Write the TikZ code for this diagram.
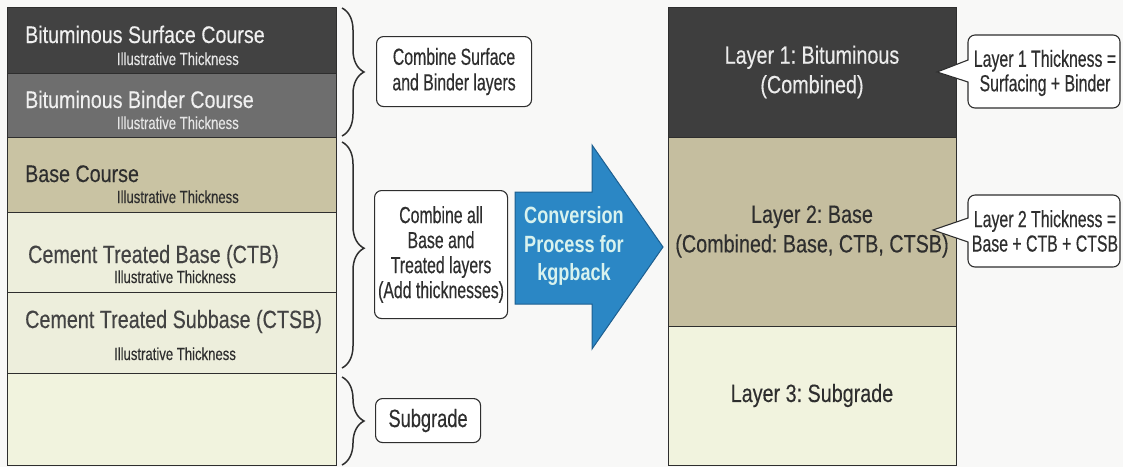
\documentclass[tikz,border=0pt]{standalone}
\usepackage{fontspec}
\setmainfont[FakeStretch=0.82]{Liberation Sans}
\newfontfamily\fwide[FakeStretch=0.82,FakeBold=0.25]{Liberation Sans}
\newfontfamily\fmid[FakeStretch=0.79,FakeBold=0.3]{Liberation Sans}
\newfontfamily\fillus[FakeStretch=0.75,FakeBold=0.2]{Liberation Sans}
\newfontfamily\fright[FakeStretch=0.79,FakeBold=0.25]{Liberation Sans}
\newfontfamily\fnarrow[FakeStretch=0.68,FakeBold=0.35]{Liberation Sans}
\newfontfamily\fsub[FakeStretch=0.73,FakeBold=0.3]{Liberation Sans}
\newfontfamily\farrow[FakeStretch=0.77]{Liberation Sans Bold}
\usetikzlibrary{decorations.pathreplacing,calc}
\definecolor{surfc}{HTML}{424242}
\definecolor{bindc}{HTML}{6E6E6E}
\definecolor{basec}{HTML}{C9C3A3}
\definecolor{ctbc}{HTML}{EDEEDC}
\definecolor{subc}{HTML}{F1F3DE}
\definecolor{lonec}{HTML}{3E3E3E}
\definecolor{ltwoc}{HTML}{C5BE9F}
\definecolor{lthreec}{HTML}{F1F3DE}
\definecolor{arrowc}{HTML}{2B87C5}
\definecolor{arrowd}{HTML}{1D5F90}
\definecolor{arrowt}{HTML}{D8F2EE}
\definecolor{inkc}{HTML}{2E2E2E}
\definecolor{bgc}{HTML}{F8F8F7}
\newcommand\fsz[2]{\fontsize{#1}{#2}\selectfont\frenchspacing}
\begin{document}
\begin{tikzpicture}[x=1pt,y=-1pt,
  layer/.style={draw=inkc, line width=1pt, anchor=north west, inner sep=0pt, outer sep=0pt},
  lbl/.style={inner sep=0pt, font=\fwide\fsz{24}{28}},
  lblb/.style={inner sep=0pt, font=\fmid\fsz{25}{28}},
  ill/.style={inner sep=0pt, font=\fillus\fsz{17.5}{18}},
  rlbl/.style={font=\fright\fsz{25}{29.5}, align=center, text=inkc},
  brc/.style={decorate, decoration={brace, amplitude=22pt, raise=0pt}, line width=1.5pt, draw=inkc},
  notebox/.style={draw=inkc, line width=1.1pt, rounded corners=7pt, fill=white, inner sep=0pt,
    font=\fnarrow\fsz{23.3}{25.5}, align=center, text=inkc, anchor=north west},
  callout/.style={draw=inkc, line width=1.1pt, fill=white},
  calltext/.style={font=\fnarrow\fsz{23.3}{24.5}, align=center, text=inkc, inner sep=0pt}
]
\useasboundingbox (0,0) rectangle (1123,467);
\fill[bgc] (0,0) rectangle (1123,467);

% left column
\node[layer, fill=surfc, minimum width=329pt, minimum height=66pt] (surf) at (7,7) {};
\node[layer, fill=bindc, minimum width=329pt, minimum height=64pt] (bind) at (7,73) {};
\node[layer, fill=basec, minimum width=329pt, minimum height=75pt] (base) at (7,137) {};
\node[layer, fill=ctbc, minimum width=329pt, minimum height=80pt] (ctb) at (7,212) {};
\node[layer, fill=ctbc, minimum width=329pt, minimum height=81pt] (ctsb) at (7,292) {};
\node[layer, fill=subc, minimum width=329pt, minimum height=92pt] (subg) at (7,373) {};

\node[lbl, anchor=base west, text=white!94!black] (t1) at (25,43) {Bituminous Surface Course};
\node[ill, anchor=base east, text=white!90!black] (i1) at (239,65) {Illustrative Thickness};
\node[lbl, anchor=base west, text=white!94!black] (t2) at (25,108) {Bituminous Binder Course};
\node[ill, anchor=base east, text=white!90!black] (i2) at (239,129) {Illustrative Thickness};
\node[lbl, anchor=base west, text=inkc] (t3) at (25,182) {Base Course};
\node[ill, anchor=base east, text=inkc] (i3) at (239,203) {Illustrative Thickness};
\node[lblb, anchor=base west, text=inkc!90] (t4) at (28,263) {Cement Treated Base (CTB)};
\node[ill, anchor=base, text=inkc] (i4) at (175,283) {Illustrative Thickness};
\node[lblb, anchor=base west, text=inkc!90] (t5) at (25,328) {Cement Treated Subbase (CTSB)};
\node[ill, anchor=base, text=inkc] (i5) at (175,360) {Illustrative Thickness};

% braces
\coordinate (b1a) at (342,8);   \coordinate (b1b) at (342,136);
\coordinate (b2a) at (342,142); \coordinate (b2b) at (342,368);
\coordinate (b3a) at (342,377); \coordinate (b3b) at (342,465);
\draw[brc] (b1a) -- (b1b);
\draw[brc, decoration={brace, amplitude=22pt, aspect=0.47}] (b2a) -- (b2b);
\draw[brc] (b3a) -- (b3b);

% note boxes
\node[notebox, minimum width=155pt, minimum height=70pt] (n1) at (376,36) {Combine Surface\\and Binder layers};
\node[notebox, minimum width=133pt, minimum height=128pt, font=\fnarrow\fsz{23.3}{25}] (n2) at (374,190) {Combine all\\Base and\\Treated layers\\(Add thicknesses)};
\node[notebox, minimum width=105pt, minimum height=44pt, font=\fsub\fsz{25}{25}] (n3) at (375,398) {Subgrade};

% big arrow
\draw[fill=arrowc, draw=arrowd, line width=1pt, line join=miter]
  (515,192) -- (592,192) -- (592,145) -- (663,247) -- (592,349) -- (592,304) -- (515,304) -- cycle;
\node[font=\farrow\fsz{23.5}{28.5}, align=center, text=arrowt, inner sep=0pt] (conv) at (574,246)
  {Conversion\\Process for\\kgpback};

% right column
\node[layer, fill=lonec, minimum width=288pt, minimum height=130pt, rlbl, text=white!92!black] (L1) at (668,7)
  {Layer 1: Bituminous\\(Combined)};
\node[layer, fill=ltwoc, minimum width=288pt, minimum height=189pt, rlbl] (L2) at (668,137)
  {Layer 2: Base\\(Combined: Base, CTB, CTSB)};
\node[layer, fill=lthreec, minimum width=288pt, minimum height=139pt, rlbl] (L3) at (668,326)
  {\raisebox{-3pt}{Layer 3: Subgrade}};

% callouts
\coordinate (c1tip) at (937,72);
\draw[callout] (968,60) [rounded corners=7pt] -- (968,35) -- (1120,35) -- (1120,108) -- (968,108)
  [sharp corners] -- (968,82) -- (c1tip) -- cycle;
\node[calltext] (c1) at (1045,73) {Layer 1 Thickness =\\Surfacing + Binder};
\coordinate (c2tip) at (933,230);
\draw[callout] (968,218) [rounded corners=7pt] -- (968,195) -- (1120,195) -- (1120,267) -- (968,267)
  [sharp corners] -- (968,242) -- (c2tip) -- cycle;
\node[calltext] (c2) at (1045,231) {Layer 2 Thickness =\\Base + CTB + CTSB};
\end{tikzpicture}
\end{document}
